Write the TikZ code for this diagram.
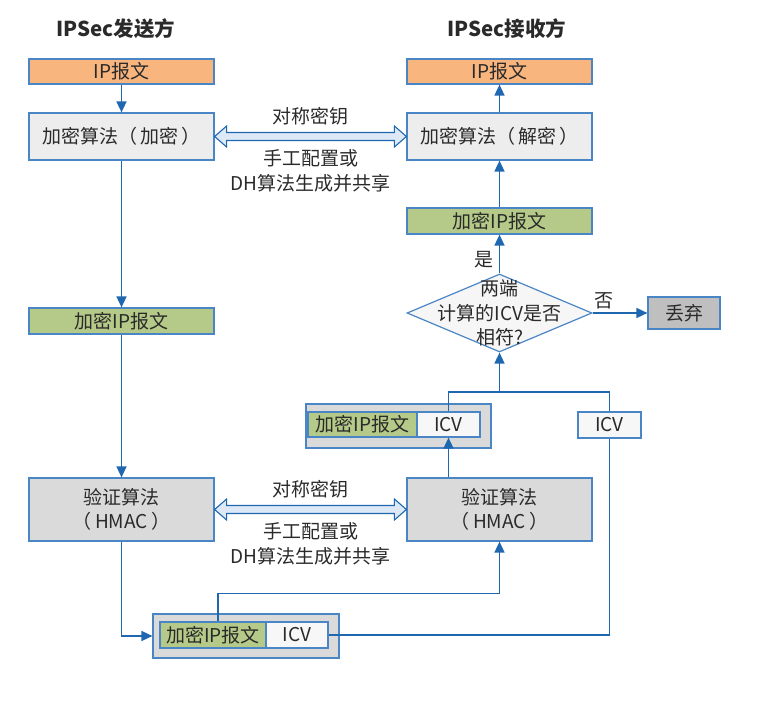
\documentclass[tikz,border=0pt]{standalone}
\usepackage{fontspec}
\setmainfont{Noto Sans CJK SC}
\usetikzlibrary{arrows.meta,calc,positioning,shapes.geometric}
\definecolor{edgeblue}{HTML}{4A86C5}
\definecolor{lineblue}{HTML}{1F68B0}
\definecolor{orangefill}{HTML}{F8B57E}
\definecolor{greenfill}{HTML}{B5CA88}
\definecolor{lightgray}{HTML}{EDEDED}
\definecolor{midgray}{HTML}{DADADA}
\definecolor{darkgray}{HTML}{BFBFBF}
\definecolor{keyfill}{HTML}{DDE9F6}
\definecolor{txt}{HTML}{2A2A2A}
\newcommand{\txtsize}{\fontsize{19}{24.5}\selectfont}
% hollow two-headed key arrow between two boxes
\newcommand{\keyarrow}[2]{
      \draw[keyshape] (#1.east) -- ++(12,-10.5) -- ++(0,6.5) -- ($(#2.west)+(-12,-4)$)
        -- ++(0,-6.5) -- (#2.west) -- ++(-12,10.5) -- ++(0,-6.5)
        -- ($(#1.east)+(12,4)$) -- ++(0,6.5) -- cycle;
}

\begin{document}
\begin{tikzpicture}[x=1pt,y=-1pt,
    box/.style={draw=edgeblue, line width=1.2pt, inner sep=0pt, text=txt, font=\txtsize, align=center},
    wide/.style={box, minimum width=185, minimum height=#1},
    flow/.style={draw=lineblue, line width=1.6pt, -{Triangle[length=11pt,width=10pt]}},
    link/.style={draw=lineblue, line width=1.6pt},
    keyshape/.style={draw=lineblue, line width=1.1pt, fill=keyfill, line join=miter},
    lbl/.style={text=txt, font=\txtsize, align=center, inner sep=0pt},
    head/.style={text=txt, font=\fontsize{20.5}{25}\selectfont\bfseries, inner sep=0pt}]
      \useasboundingbox (0,0) rectangle (761,703);
%
      \node[head] (sendT) at (116,29) {IPSec发送方};
      \node[head] (recvT) at (507,29) {IPSec接收方};
%
      % sender column
      \node[wide=25, fill=orangefill] (ipL) at (121.5,71.5) {IP报文};
      \node[wide=47, fill=lightgray] (encL) at (121.5,136.5) {加密算法（\,加密\,）};
      \node[wide=26, fill=greenfill] (cipL) at (121.5,321) {加密IP报文};
      \node[wide=63, fill=midgray] (macL) at (121.5,509.5) {验证算法\\（\,HMAC\,）};
%
      % receiver column
      \node[wide=25, fill=orangefill] (ipR) at (499.5,71.5) {IP报文};
      \node[wide=47, fill=lightgray] (decR) at (499.5,136.5) {加密算法（\,解密\,）};
      \node[wide=26, fill=greenfill] (cipR) at (499.5,221) {加密IP报文};
      \node[draw=edgeblue, line width=1.2pt, fill=lightgray!50, diamond, inner sep=0pt,
            minimum width=185, minimum height=78] (chk) at (499.5,313) {};
      \node[lbl] (chkT) at (chk.center) {两端\\计算的ICV是否\\相符?};
      \node[box, fill=darkgray, minimum width=72, minimum height=32] (drop) at (684,313) {丢弃};
      \node[wide=63, fill=midgray] (macR) at (499.5,509.5) {验证算法\\（\,HMAC\,）};
%
      % packets with ICV
      \node[box, fill=midgray, minimum width=185, minimum height=44] (pktR) at (398.5,426) {};
      \node[box, fill=greenfill, minimum width=109, minimum height=25] (pktRcip) at (362.5,424.5) {加密IP报文};
      \node[box, fill=white!97!black, minimum width=63, minimum height=25] (pktRicv) at (448.5,424.5) {ICV};
      \node[box, fill=white!97!black, minimum width=63, minimum height=26] (icvR) at (609.5,425) {ICV};
      \node[box, fill=midgray, minimum width=186, minimum height=44] (pktL) at (246,636) {};
      \node[box, fill=greenfill, minimum width=106, minimum height=26] (pktLcip) at (213,635) {加密IP报文};
      \node[box, fill=white!97!black, minimum width=62, minimum height=26] (pktLicv) at (297,635) {ICV};
      \coordinate (join) at (499.5,392);
%
      % key exchange
      \keyarrow{encL}{decR}
      \keyarrow{macL}{macR}
      \path (encL.east) -- node[lbl, above=11pt] (keyA) {对称密钥}
            node[lbl, below=13pt] (howA) {手工配置或\\DH算法生成并共享} (decR.west);
      \path (macL.east) -- node[lbl, above=11pt] (keyB) {对称密钥}
            node[lbl, below=13pt] (howB) {手工配置或\\DH算法生成并共享} (macR.west);
%
      \draw[flow] (ipL) -- (encL);
      \draw[flow] (encL) -- (cipL);
      \draw[flow] (cipL) -- (macL);
      \draw[flow] (macL.south) |- (pktL.west);
      \draw[flow] ([xshift=5pt]pktLcip.north) -- ++(0,-28) -| (macR.south);
      \draw[link] (pktLicv.east) -| (icvR.south);
      \draw[flow] (pktRicv.south |- macR.north) -- (pktRicv.south);
      \draw[link] (pktRicv.north) |- (join) -| (icvR.north);
      \draw[flow] (join) -- (chk.south);
      \draw[flow] (chk.north) -- node[lbl, pos=0.35, left=5pt] (yes) {是} (cipR.south);
      \draw[flow] (chk.east) -- node[lbl, pos=0.2, above=3pt] (no) {否} (drop.west);
      \draw[flow] (cipR) -- (decR);
      \draw[flow] (decR) -- (ipR);
    \end{tikzpicture}
\end{document}
